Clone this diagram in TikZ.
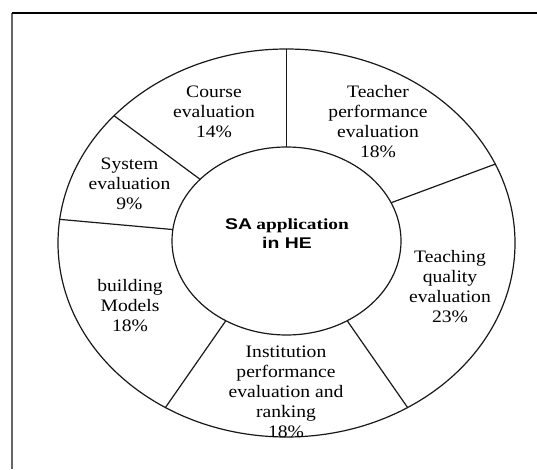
\documentclass[tikz,border=0pt]{standalone}
\usepackage{fontspec}
\setmainfont{Liberation Serif}[FakeStretch=1.12]
\newfontfamily\hubsans{Liberation Sans}[FakeStretch=1.25]
\newfontfamily\hubserif{Liberation Serif}[FakeStretch=1.25]
\begin{document}
\begin{tikzpicture}[x=1pt,y=1pt,
  ringline/.style={line width=1.2pt, black!90},
  framel/.style={line width=1.3pt},
  lbl/.style={align=center, font=\fontsize{17.5}{20}\selectfont, inner sep=0pt, text=black},
  hublbl/.style={align=center, font=\bfseries\fontsize{15.5}{19}\selectfont, inner sep=0pt}]
\useasboundingbox (0,0) rectangle (537,469);
\fill[white] (0,0) rectangle (537,469);
% frame (only top and left edges visible)
\coordinate (fa) at (12,0);
\coordinate (fb) at (12,456);
\coordinate (fc) at (537,456);
\draw[framel, black!60] (fa) -- (fb);
\draw[framel, black] (fb) -- (fc);
% ring
\coordinate (oc) at (286.5,226);
\coordinate (ic) at (286.5,228);
\draw[ringline] (oc) ellipse [x radius=228.5, y radius=194];
\draw[ringline] (ic) ellipse [x radius=114.5, y radius=94];
\foreach \a/\n in {90/1,24/2,-58/3,-122/4,173/5,139/6} {
  \path (oc) ++(\a:228.5 and 194) coordinate (o\n);
  \path (ic) ++(\a:114.5 and 94) coordinate (i\n);
  \draw[ringline] (i\n) -- (o\n);
}
% labels
\node[hublbl] (hub) at (287,235) {{\hubsans SA} {\hubserif application}\\{\hubsans in HE}};
\node[lbl] (course) at (214,357) {Course\\evaluation\\14\%};
\node[lbl] (teacher) at (378,347) {Teacher\\performance\\evaluation\\18\%};
\node[lbl] (system) at (129.5,285) {System\\evaluation\\9\%};
\node[lbl] (models) at (130,163) {building\\Models\\18\%};
\node[lbl] (inst) at (286,77) {Institution\\performance\\evaluation and\\ranking\\18\%};
\node[lbl] (teaching) at (450,182) {Teaching\\quality\\evaluation\\23\%};
\end{tikzpicture}
\end{document}
